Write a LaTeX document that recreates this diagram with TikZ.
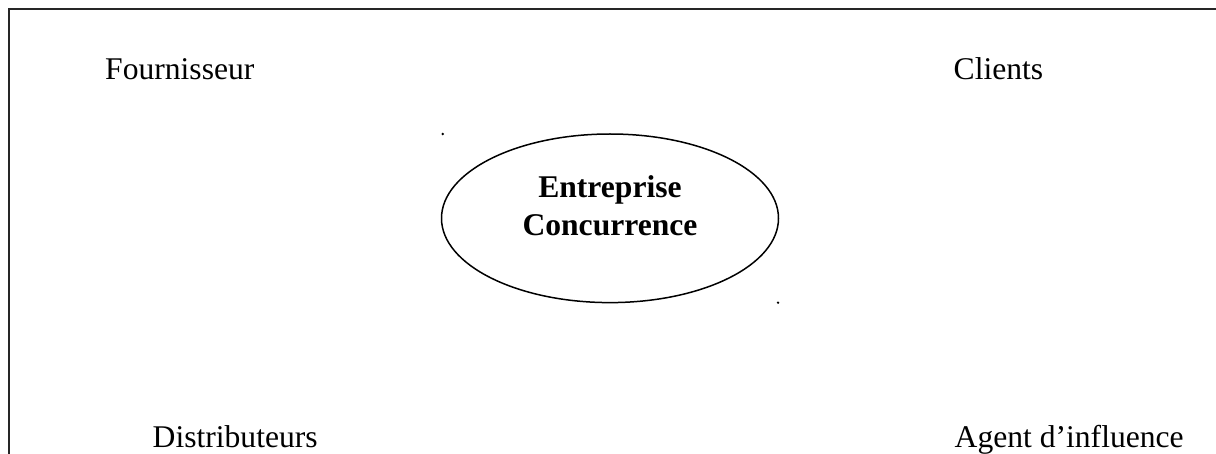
\documentclass[tikz,border=0pt]{standalone}
\usepackage{fontspec}
\setmainfont{Liberation Serif}
\usetikzlibrary{shapes.geometric}
\begin{document}
\begin{tikzpicture}[x=1pt,y=1pt,
  lbl/.style={anchor=base west,inner sep=0pt,font=\fontsize{31.6}{38}\selectfont},
  blbl/.style={anchor=base,inner sep=0pt,font=\fontsize{31.6}{38}\selectfont\bfseries},
  frameline/.style={draw=black!85,line width=1.2pt},
  ell/.style={draw=black,line width=1.5pt,ellipse,inner sep=0pt,minimum width=337pt,minimum height=168.6pt}]
\useasboundingbox (0,0) rectangle (1216,453);
\fill[white] (0,0) rectangle (1216,453);
\draw[frameline] (9,-2) -- (9,444) -- (1218,444);
\node[ell] (ent) at (610,234.7) {};
\node[blbl] (t1) at (610,255) {Entreprise};
\node[blbl] (t2) at (610,217) {Concurrence};
\node[lbl] (four) at (105,373.7) {Fournisseur};
\node[lbl] (cli) at (953.5,373.7) {Clients};
\node[lbl] (dist) at (152.5,5.3) {Distributeurs};
\node[lbl] (agent) at (954.5,5.3) {Agent d’influence};
\coordinate (d1) at (442.7,319);
\coordinate (d2) at (778,150.3);
\fill (d1) circle (1.3pt);
\fill (d2) circle (1.3pt);
\end{tikzpicture}
\end{document}
